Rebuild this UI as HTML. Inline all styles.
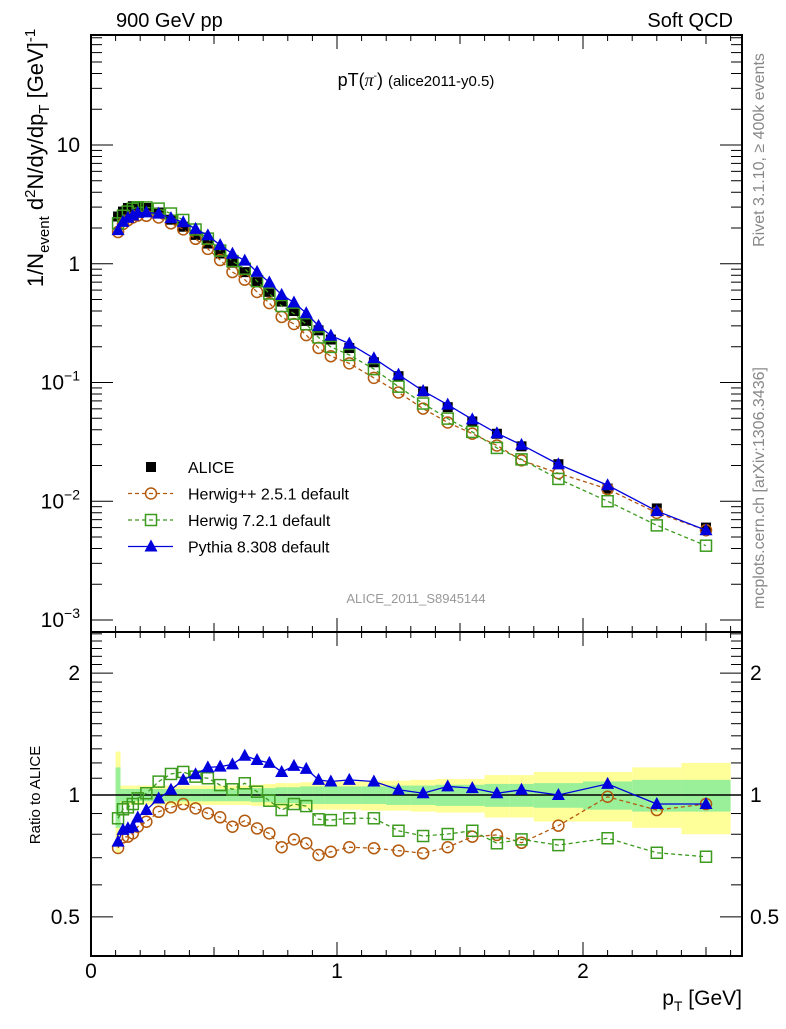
<!DOCTYPE html>
<html><head><meta charset="utf-8"><style>
body{margin:0;background:#fff;}
svg text{font-family:"Liberation Sans",sans-serif;}
</style></head><body>
<svg id="c" width="786" height="1024" xmlns="http://www.w3.org/2000/svg">
<text x="116" y="27" font-size="20">900 GeV pp</text>
<text x="733" y="27" font-size="20" text-anchor="end">Soft QCD</text>
<text x="416" y="86" font-size="18" text-anchor="middle">pT(<tspan font-family="Liberation Serif" font-style="italic">π</tspan><tspan font-size="10" dy="-7">-</tspan><tspan dy="7">) </tspan><tspan font-size="15">(alice2011-y0.5)</tspan></text>
<text transform="translate(764,150) rotate(-90)" font-size="16" fill="#888" text-anchor="middle">Rivet 3.1.10, ≥ 400k events</text>
<text transform="translate(764,488) rotate(-90)" font-size="16" fill="#888" text-anchor="middle">mcplots.cern.ch [arXiv:1306.3436]</text>
<text x="416" y="603" font-size="13" fill="#999" text-anchor="middle">ALICE_2011_S8945144</text>
<text transform="translate(43,158) rotate(-90)" font-size="22" text-anchor="middle">1/N<tspan font-size="15" dy="6">event</tspan><tspan dy="-6"> d</tspan><tspan font-size="15" dy="-8">2</tspan><tspan dy="8">N/dy/dp</tspan><tspan font-size="15" dy="6">T</tspan><tspan dy="-6">  [GeV]</tspan><tspan font-size="15" dy="-8">-1</tspan></text>
<text transform="translate(40,795) rotate(-90)" font-size="15" text-anchor="middle">Ratio to ALICE</text>
<text x="742" y="1005" font-size="21" text-anchor="end">p<tspan font-size="14" dy="6">T</tspan><tspan dy="-6"> [GeV]</tspan></text>
<g id="bands"></g><g id="axes"></g><g id="series"></g><g id="legend"></g>
</svg>
<script>
const pT=[0.11,0.13,0.15,0.17,0.19,0.225,0.275,0.325,0.375,0.425,0.475,0.525,0.575,0.625,0.675,0.725,0.775,0.825,0.875,0.925,0.975,1.05,1.15,1.25,1.35,1.45,1.55,1.65,1.75,1.9,2.1,2.3,2.5];
const aliceVals=[2.5,2.75,2.95,3.05,3.05,2.95,2.7,2.35,2.05,1.75,1.48,1.22,1.02,0.85,0.70,0.58,0.48,0.40,0.33,0.275,0.23,0.195,0.148,0.113,0.084,0.062,0.047,0.037,0.029,0.0205,0.0128,0.0087,0.006];
const herwigppRatio=[0.74,0.786,0.789,0.804,0.835,0.859,0.909,0.932,0.95,0.927,0.901,0.881,0.835,0.864,0.827,0.804,0.743,0.777,0.76,0.711,0.724,0.743,0.739,0.729,0.718,0.743,0.789,0.797,0.762,0.84,0.99,0.918,0.95];
const herwig7Ratio=[0.876,0.922,0.932,0.95,0.981,1.01,1.079,1.127,1.14,1.11,1.10,1.058,1.033,1.069,1.019,0.968,0.918,0.95,0.939,0.871,0.867,0.876,0.876,0.816,0.792,0.801,0.816,0.76,0.777,0.752,0.782,0.72,0.704];
const pythiaRatio=[0.767,0.82,0.828,0.835,0.88,0.918,0.98,1.03,1.09,1.125,1.17,1.175,1.19,1.25,1.22,1.20,1.14,1.18,1.16,1.09,1.08,1.09,1.08,1.03,1.01,1.05,1.04,1.01,1.03,1.0,1.065,0.95,0.95];
const totErr=[0.28,0.055,0.055,0.055,0.055,0.055,0.055,0.055,0.055,0.055,0.055,0.055,0.055,0.055,0.06,0.065,0.07,0.07,0.075,0.08,0.08,0.08,0.085,0.085,0.09,0.095,0.095,0.12,0.12,0.14,0.14,0.17,0.2];
const statErr=[0.17,0.035,0.035,0.035,0.035,0.035,0.035,0.035,0.035,0.035,0.035,0.035,0.035,0.035,0.04,0.04,0.045,0.045,0.05,0.05,0.05,0.05,0.05,0.055,0.055,0.06,0.06,0.065,0.065,0.07,0.08,0.09,0.09];
const binEdges=[0.1,0.12,0.14,0.16,0.18,0.2,0.25,0.3,0.35,0.4,0.45,0.5,0.55,0.6,0.65,0.7,0.75,0.8,0.85,0.9,0.95,1.0,1.1,1.2,1.3,1.4,1.5,1.6,1.7,1.8,2.0,2.2,2.4,2.6];
const mainTickLabels=["10","1","10","10","10"];
const mainTickExps=["","","−1","−2","−3"];
const ratioTicks=[0.5,1,2];
const xTicks=[0,1,2];

const NS="http://www.w3.org/2000/svg";
const L=91,R=742,T=35,MB=632,B=956;
const X=v=>L+246*v;
const Y=v=>263.75-118.75*Math.log10(v);
const RY=r=>795-405*Math.log10(r);
function mk(tag,attrs,parent){const e=document.createElementNS(NS,tag);for(const k in attrs)e.setAttribute(k,attrs[k]);parent.appendChild(e);return e;}
const bands=document.getElementById('bands'),axes=document.getElementById('axes'),series=document.getElementById('series'),legend=document.getElementById('legend');

for(let i=0;i<pT.length;i++){
  const x0=X(binEdges[i]),x1=X(binEdges[i+1]);
  const y=mk('rect',{x:x0,y:RY(1+totErr[i]),width:x1-x0,height:RY(1-totErr[i])-RY(1+totErr[i]),fill:'#ffff99'},bands);
  
  
}
for(let i=0;i<pT.length;i++){
  const x0=X(binEdges[i]),x1=X(binEdges[i+1]);
  const g=mk('rect',{x:x0,y:RY(1+statErr[i]),width:x1-x0,height:RY(1-statErr[i])-RY(1+statErr[i]),fill:'#99f099'},bands);
  
  
}
const one=mk('line',{x1:L,x2:R,y1:RY(1),y2:RY(1),stroke:'#000','stroke-width':1.5},bands);



for(const [y0,y1,n] of [[T,MB,'main-frame'],[MB,B,'ratio-frame']]){
  const f=mk('rect',{x:L,y:y0,width:R-L,height:y1-y0,fill:'none',stroke:'#000','stroke-width':2},axes);
  
  
}
for(let k=0;k<=26;k++){
  const v=k/10,x=X(v),len=(k%10===0)?14:(k%5===0?9:6);
  for(const [yb,dir] of [[T,1],[MB,-1],[MB,1],[B,-1]]) mk('line',{x1:x,x2:x,y1:yb,y2:yb+dir*len,stroke:'#000','stroke-width':1},axes);
}
xTicks.forEach(v=>{const t=mk('text',{x:X(v),y:978,'font-size':21,'text-anchor':'middle'},axes);t.textContent=v;

});
for(let d=-3;d<=1;d++){for(let m=1;m<=9;m++){const v=m*Math.pow(10,d);const y=Y(v);if(y<T||y>MB)continue;const len=m===1?22:11;
  mk('line',{x1:L,x2:L+len,y1:y,y2:y,stroke:'#000'},axes);mk('line',{x1:R,x2:R-len,y1:y,y2:y,stroke:'#000'},axes);}}
const decVals=[10,1,0.1,0.01,0.001];
decVals.forEach((v,i)=>{const t=mk('text',{x:80,y:Y(v)+7,'font-size':21,'text-anchor':'end'},axes);
t.textContent=mainTickLabels[i];
if(mainTickExps[i]){const s=mk('tspan',{'font-size':14,dy:-9},t);s.textContent=mainTickExps[i];}

});
for(let k=4;k<=25;k++){const r=k/10;const y=RY(r);if(y<MB||y>B)continue;const len=(r===0.5||r===1||r===2)?22:11;
  mk('line',{x1:L,x2:L+len,y1:y,y2:y,stroke:'#000'},axes);mk('line',{x1:R,x2:R-len,y1:y,y2:y,stroke:'#000'},axes);}
ratioTicks.forEach(r=>{for(const [x,a] of [[80,'end'],[750,'start']]){const t=mk('text',{x:x,y:RY(r)+7,'font-size':21,'text-anchor':a},axes);t.textContent=r;

}});

function line(pts,col,dash,name){const p=mk('polyline',{points:pts.map(q=>q.join(',')).join(' '),fill:'none',stroke:col,'stroke-width':1.3,'stroke-dasharray':dash},series);

}
function marker(type,x,y,col,name){let e;
 if(type==='sq') e=mk('rect',{x:x-5,y:y-5,width:10,height:10,fill:'#000'},series);
 else if(type==='osq') e=mk('rect',{x:x-5.5,y:y-5.5,width:11,height:11,fill:'none',stroke:col,'stroke-width':1.5},series);
 else if(type==='circ') e=mk('circle',{cx:x,cy:y,r:5.5,fill:'none',stroke:col,'stroke-width':1.5},series);
 else e=mk('polygon',{points:`${x},${y-7} ${x-6.5},${y+5} ${x+6.5},${y+5}`,fill:col},series);
 
 }
const defs=[[herwigppRatio,'#b35a0f','4,3','circ','herwigpp'],[herwig7Ratio,'#3c9b1e','4,3','osq','herwig7'],[pythiaRatio,'#0000dd','none','tri','pythia8']];
pT.forEach((p,i)=>marker('sq',X(p),Y(aliceVals[i]),'#000','alice-point'));
defs.forEach(([rat,col,dash,typ,nm])=>{
  line(pT.map((p,i)=>[X(p),Y(aliceVals[i]*rat[i])]),col,dash,nm+'-line');
  pT.forEach((p,i)=>marker(typ,X(p),Y(aliceVals[i]*rat[i]),col,nm+'-point'));
  line(pT.map((p,i)=>[X(p),RY(rat[i])]),col,dash,nm+'-ratio-line');
  pT.forEach((p,i)=>marker(typ,X(p),RY(rat[i]),col,nm+'-ratio-point'));
});
const leg=[['sq','#000','none','ALICE'],['circ','#b35a0f','4,3','Herwig++ 2.5.1 default'],['osq','#3c9b1e','4,3','Herwig 7.2.1 default'],['tri','#0000dd','none','Pythia 8.308 default']];
leg.forEach(([typ,col,dash,lab],i)=>{const y=467+i*26.5;
  if(i>0){const l=mk('line',{x1:128,x2:173,y1:y,y2:y,stroke:col,'stroke-width':1.3,'stroke-dasharray':dash},legend);
  
  }
  marker(typ,151,y,col,'legend-marker');
  const t=mk('text',{x:188,y:y+6,'font-size':16},legend);t.textContent=lab;
  
  
});
</script>
</body></html>
